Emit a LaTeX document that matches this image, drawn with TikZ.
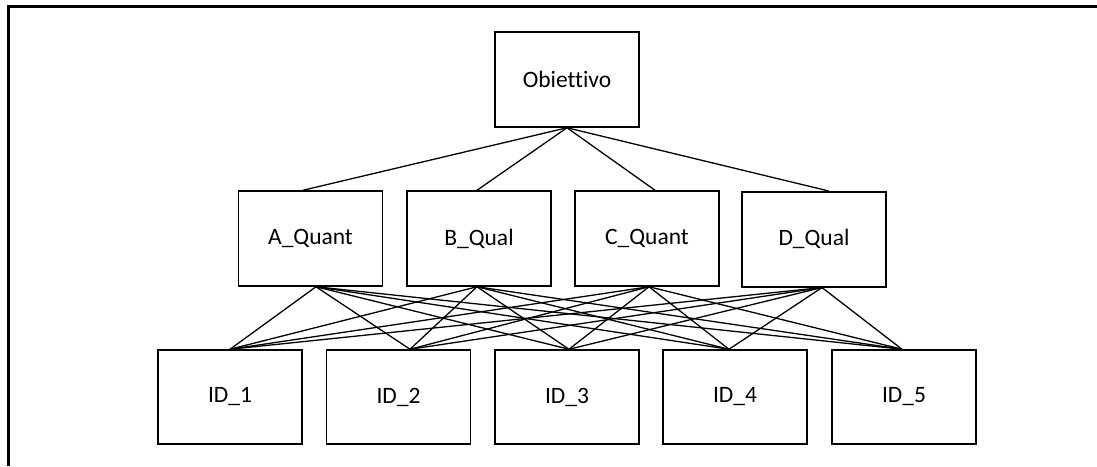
\documentclass[tikz,border=0pt]{standalone}
\usepackage{fontspec}
\setmainfont[Ligatures=NoCommon]{Carlito}
\begin{document}
\begin{tikzpicture}[x=1pt,y=-1pt,
  box/.style={draw=black, line width=1.5pt, fill=white, minimum width=144pt, minimum height=95pt, inner sep=0pt, font=\fontsize{23.5}{28}\selectfont},
  idbox/.style={box, minimum height=94pt},
  conn/.style={draw=black, line width=1.3pt},
  frame/.style={draw=black, line width=3pt}]
\useasboundingbox (0,0) rectangle (1097,466);
\coordinate (fa) at (8.5,466);
\coordinate (fb) at (8.5,6.5);
\coordinate (fc) at (1097,6.5);
\draw[frame] (fa) -- (fb) -- (fc);

\node[box] (O) at (567,79.5) {Obiettivo};
\node[box] (A) at (310.5,238.5) {A\_Quant};
\node[box] (B) at (479,238.5) {B\_Qual};
\node[box] (C) at (647,238.5) {C\_Quant};
\node[box] (D) at (814,239.3) {D\_Qual};
\node[idbox] (ID1) at (230,397) {ID\_1};
\node[idbox] (ID2) at (398.5,397) {ID\_2};
\node[idbox] (ID3) at (567,397) {ID\_3};
\node[idbox] (ID4) at (735,397) {ID\_4};
\node[idbox] (ID5) at (904,397) {ID\_5};

% attachment points on the boxes
\coordinate (Ot) at (O.south);
\coordinate (At) at ([xshift=-7.5pt]A.north); \coordinate (Ab) at ([xshift=5.5pt]A.south);
\coordinate (Bt) at ([xshift=-2pt]B.north);   \coordinate (Bb) at ([xshift=-2pt]B.south);
\coordinate (Ct) at ([xshift=8pt]C.north);    \coordinate (Cb) at ([xshift=2pt]C.south);
\coordinate (Dt) at ([xshift=15pt]D.north);   \coordinate (Db) at ([xshift=8pt]D.south);
\coordinate (I1) at (ID1.north);
\coordinate (I2) at ([xshift=11.5pt]ID2.north);
\coordinate (I3) at ([xshift=2pt]ID3.north);
\coordinate (I4) at ([xshift=-6pt]ID4.north);
\coordinate (I5) at ([xshift=-2pt]ID5.north);

\foreach \t in {At,Bt,Ct,Dt} \draw[conn] (Ot) -- (\t);
\foreach \s in {Ab,Bb,Cb,Db}
  \foreach \t in {I1,I2,I3,I4,I5}
    \draw[conn] (\s) -- (\t);
\end{tikzpicture}
\end{document}
